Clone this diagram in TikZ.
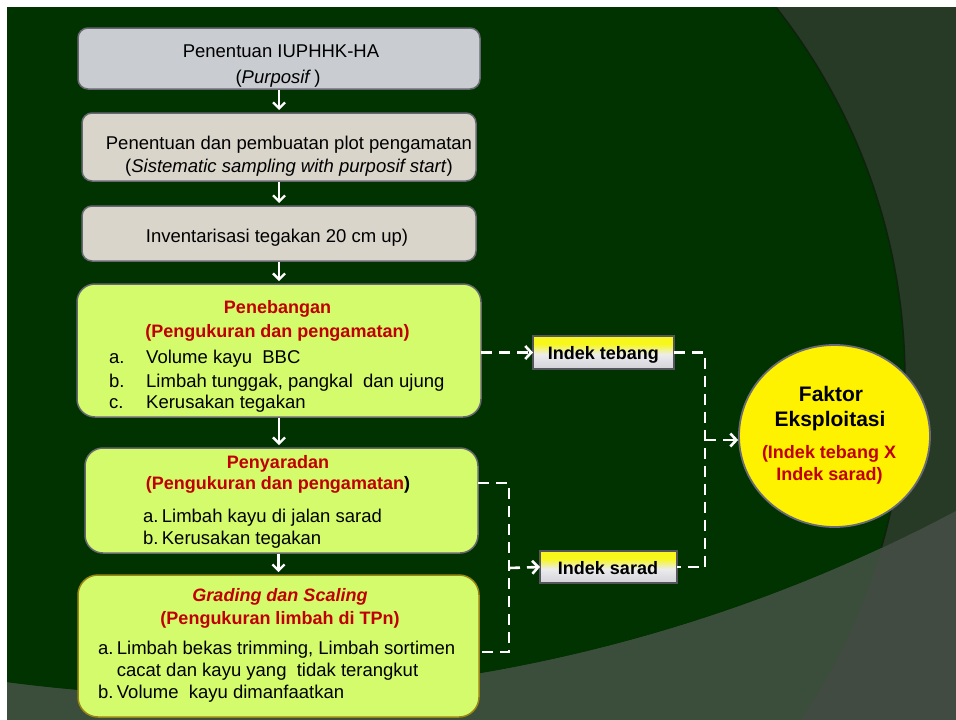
\documentclass[tikz,border=0pt]{standalone}
\usepackage{fontspec}
\setmainfont{Liberation Sans}
\usetikzlibrary{arrows.meta,shapes.geometric}
\definecolor{bgdark}{HTML}{003300}
\definecolor{bgband}{HTML}{263A26}
\definecolor{bgedge}{HTML}{0E220E}
\definecolor{bglowin}{HTML}{3B4D3B}
\definecolor{bglowout}{HTML}{414B41}
\definecolor{boxgray}{HTML}{C9CCD0}
\definecolor{boxbeige}{HTML}{D9D5CB}
\definecolor{boxedge}{HTML}{686872}
\definecolor{limefill}{HTML}{D3FB6C}
\definecolor{goldedge}{HTML}{9A8612}
\definecolor{darkred}{HTML}{C00000}
\definecolor{idtop}{HTML}{F7F71C}
\definecolor{idmid}{HTML}{ECECEE}
\definecolor{idbot}{HTML}{D2D2D8}
\definecolor{idedge}{HTML}{55555E}
\definecolor{feedge}{HTML}{6B6B78}
\pgfdeclareverticalshading{indekshade}{100bp}{color(0bp)=(idbot); color(25bp)=(idbot); color(47bp)=(idmid); color(63bp)=(idtop); color(100bp)=(idtop)}
\tikzset{
  greybox/.style={draw=boxedge, line width=1.5pt, rounded corners=10pt, fill=boxgray, inner sep=0pt, outer sep=0pt},
  beigebox/.style={greybox, fill=boxbeige},
  limebox/.style={draw=boxedge, line width=1.5pt, rounded corners=18pt, fill=limefill, inner sep=0pt, outer sep=0pt},
  indekbox/.style={draw=idedge, line width=1.8pt, shading=indekshade, inner sep=0pt, outer sep=0pt},
  tx/.style={font=\fontsize{18.5}{21}\selectfont, inner sep=0pt, anchor=base},
  txl/.style={tx, anchor=base west},
  ttl/.style={tx, font=\fontsize{18}{21}\selectfont\bfseries, text=darkred},
  flowarrow/.style={draw=white, line width=2.3pt, -{Straight Barb[length=6pt,width=12pt]}, shorten <=1pt, shorten >=3pt},
  dashline/.style={draw=white, line width=2.6pt, dash pattern=on 11pt off 7pt},
  dasharrow/.style={dashline, -{Straight Barb[length=6pt,width=13pt]}}
}
\begin{document}
\begin{tikzpicture}[x=1pt,y=-1pt]
\useasboundingbox (0,0) rectangle (956,720);
% background
\fill[white] (0,0) rectangle (956,720);
\begin{scope}
  \clip (7,7) rectangle (956,720);
  \fill[bgband] (7,7) rectangle (956,720);
  \fill[bgdark] (302,380) circle[radius=603pt];
  \draw[bgedge, line width=1.5pt] (302,380) circle[radius=603pt];
  \begin{scope}
    \clip (214,-884) ++(-99:1580pt) arc[start angle=-99,end angle=-58,radius=1580pt] -- (1100,800) -- (-100,800) -- cycle;
    \fill[bglowout] (0,0) rectangle (956,720);
    \fill[bglowin] (302,380) circle[radius=603pt];
  \end{scope}
\end{scope}

% boxes
\node[greybox, minimum width=402pt, minimum height=61pt] (b1) at (279,58.5) {};
\node[beigebox, minimum width=394pt, minimum height=68pt] (b2) at (279,147) {};
\node[beigebox, minimum width=394pt, minimum height=55pt] (b3) at (279,233.5) {};
\node[limebox, minimum width=404pt, minimum height=133pt] (b4) at (279,350.5) {};
\node[limebox, minimum width=393pt, minimum height=105pt] (b5) at (281.5,500.5) {};
\node[limebox, draw=goldedge, rounded corners=20pt, minimum width=401pt, minimum height=142pt] (b6) at (278.5,646) {};
\node[indekbox, minimum width=141pt, minimum height=33pt] (it) at (603.5,352.5) {};
\node[indekbox, minimum width=137pt, minimum height=32pt] (is) at (608.5,567) {};
\node[ellipse, draw=feedge, line width=1.8pt, fill=yellow, inner sep=0pt, minimum width=191pt, minimum height=182pt] (fe) at (834.5,436) {};

% texts
\node[tx] (b1a) at (281,57.5) {Penentuan IUPHHK-HA};
\node[tx] (b1b) at (278,83.5) {(\textit{Purposif}\,)};
\node[tx] (b2a) at (289,149.4) {Penentuan dan pembuatan plot pengamatan};
\node[tx] (b2b) at (289,172) {(\textit{Sistematic sampling with purposif start})};
\node[tx] (b3a) at (277,242) {Inventarisasi tegakan 20 cm up)};

\node[ttl] (b4t1) at (277.5,313) {Penebangan};
\node[ttl] (b4t2) at (277.5,337) {(Pengukuran dan pengamatan)};
\node[txl] (b4la) at (109,363.4) {a.};
\node[txl] (b4ia) at (146,363.4) {Volume kayu \ BBC};
\node[txl] (b4lb) at (109,387.4) {b.};
\node[txl] (b4ib) at (146,387.4) {Limbah tunggak, pangkal \ dan ujung};
\node[txl] (b4lc) at (109,408) {c.};
\node[txl] (b4ic) at (146,408) {Kerusakan tegakan};

\node[ttl] (b5t1) at (278,468) {Penyaradan};
\node[ttl] (b5t2) at (278,489.7) {(Pengukuran dan pengamatan\textcolor{black}{)}};
\node[txl] (b5la) at (143,522) {a.};
\node[txl] (b5ia) at (161.7,522) {Limbah kayu di jalan sarad};
\node[txl] (b5lb) at (143,544.2) {b.};
\node[txl] (b5ib) at (161.7,544.2) {Kerusakan tegakan};

\node[ttl] (b6t1) at (280,601.4) {\textit{Grading dan Scaling}};
\node[ttl] (b6t2) at (280,624) {(Pengukuran limbah di TPn)};
\node[txl] (b6la) at (98,654.7) {a.};
\node[txl] (b6ia) at (116.7,654.7) {Limbah bekas trimming, Limbah sortimen};
\node[txl] (b6ia2) at (116.7,676.4) {cacat dan kayu yang \ tidak terangkut};
\node[txl] (b6lb) at (98,698.1) {b.};
\node[txl] (b6ib) at (116.7,698.1) {Volume \ kayu dimanfaatkan};

\node[tx, font=\fontsize{18}{21}\selectfont\bfseries] (itt) at (603.3,359.1) {Indek tebang};
\node[tx, font=\fontsize{18}{21}\selectfont\bfseries] (ist) at (608,574.2) {Indek sarad};

\node[tx, font=\fontsize{21}{24}\selectfont\bfseries] (fe1) at (831,401.5) {Faktor};
\node[tx, font=\fontsize{21}{24}\selectfont\bfseries] (fe2) at (830,426.5) {Eksploitasi};
\node[ttl] (fe3) at (829,458.4) {(Indek tebang X};
\node[ttl] (fe4) at (829.5,480.4) {Indek sarad)};

% solid flow arrows
\draw[flowarrow] (b1.south) -- (b2.north);
\draw[flowarrow] (b2.south) -- (b3.north);
\draw[flowarrow] (b3.south) -- (b4.north);
\draw[flowarrow] (b4.south) -- (b4.south |- b5.north);
\draw[flowarrow] (b6.north |- b5.south) -- (b6.north);

% dashed connectors
\coordinate (jr) at (705,440);
\coordinate (jl) at (509,568);
\draw[dasharrow] (b4.east |- it.west) -- (it.west);
\draw[dashline] (it.east) -| (jr) |- (is.east);
\draw[dasharrow] (jr) -- (jr -| fe.west);
\draw[dashline] ([yshift=17.5pt]b5.east) -| (jl) |- ([yshift=-6pt]b6.east);
\draw[dasharrow] (jl) -- (is.west);
\end{tikzpicture}
\end{document}
